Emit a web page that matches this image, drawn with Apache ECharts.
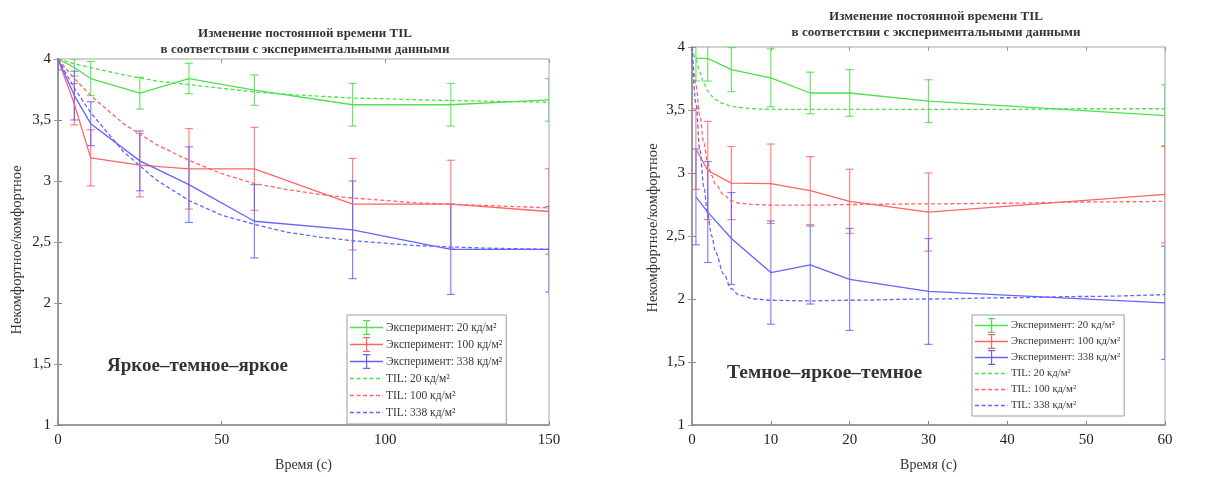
<!DOCTYPE html>
<html>
<head>
<meta charset="utf-8">
<script src="https://cdn.jsdelivr.net/npm/echarts@6/dist/echarts.min.js"></script>
<style>
  html, body { margin: 0; padding: 0; background: #fff; }
  #chart { width: 1212px; height: 477px; }
</style>
</head>
<body>
<div id="chart"></div>
<script>
// ---- Labels ----
const titleText = 'Изменение постоянной времени TIL\nв соответствии с экспериментальными данными';
const yName = 'Некомфортное/комфортное';
const xName = 'Время (с)';
const seriesNames = [
  'Эксперимент: 20 кд/м²', 'Эксперимент: 100 кд/м²', 'Эксперимент: 338 кд/м²',
  'TIL: 20 кд/м²', 'TIL: 100 кд/м²', 'TIL: 338 кд/м²'
];
const panelLabels = ['Яркое–темное–яркое', 'Темное–яркое–темное'];

// ---- Panel A: bright–dark–bright (0…150 s) ----
const aExpX = [0, 5, 10, 25, 40, 60, 90, 120, 150];
const aExp20 = [4.0, 3.93, 3.84, 3.72, 3.84, 3.745, 3.625, 3.625, 3.665];
const aErr20 = [0, 0.07, 0.14, 0.13, 0.125, 0.125, 0.175, 0.175, 0.175];
const aExp100 = [4.0, 3.63, 3.19, 3.13, 3.10, 3.10, 2.81, 2.81, 2.75];
const aErr100 = [0, 0.17, 0.23, 0.26, 0.33, 0.34, 0.375, 0.36, 0.35];
const aExp338 = [4.0, 3.70, 3.47, 3.165, 2.97, 2.67, 2.60, 2.44, 2.44];
const aErr338 = [0.09, 0.20, 0.18, 0.245, 0.31, 0.30, 0.40, 0.37, 0.35];

const aTilX = [0, 5, 10, 20, 30, 40, 50, 60, 70, 80, 90, 100, 110, 120, 130, 140, 150];
const aTil20 = [4.0, 3.96, 3.93, 3.87, 3.82, 3.79, 3.76, 3.73, 3.71, 3.695, 3.68, 3.675, 3.665, 3.66, 3.655, 3.65, 3.645];
const aTil100 = [4.0, 3.84, 3.70, 3.47, 3.30, 3.17, 3.06, 2.98, 2.93, 2.89, 2.86, 2.84, 2.82, 2.81, 2.80, 2.79, 2.78];
const aTil338 = [4.0, 3.76, 3.56, 3.24, 3.01, 2.84, 2.72, 2.645, 2.58, 2.54, 2.51, 2.49, 2.47, 2.46, 2.45, 2.445, 2.44];

// ---- Panel B: dark–bright–dark (0…60 s) ----
const bExpX = [0.5, 2, 5, 10, 15, 20, 30, 60];
const bExp20 = [3.91, 3.91, 3.82, 3.755, 3.635, 3.635, 3.57, 3.455];
const bErr20 = [0.18, 0.18, 0.175, 0.23, 0.165, 0.185, 0.17, 0.245];
const bExp100 = [3.19, 3.02, 2.92, 2.915, 2.86, 2.775, 2.69, 2.83];
const bErr100 = [0.32, 0.39, 0.29, 0.315, 0.27, 0.255, 0.31, 0.385];
const bExp338 = [2.81, 2.69, 2.48, 2.21, 2.27, 2.155, 2.06, 1.97];
const bErr338 = [0.38, 0.40, 0.365, 0.41, 0.31, 0.405, 0.42, 0.45];

const bTilX = [0, 0.5, 1, 1.5, 2, 2.5, 3, 4, 5, 6, 8, 10, 15, 20, 30, 40, 50, 60];
const bTil20 = [4.0, 3.90, 3.80, 3.71, 3.65, 3.61, 3.58, 3.55, 3.53, 3.52, 3.51, 3.505, 3.505, 3.505, 3.505, 3.505, 3.51, 3.51];
const bTil100 = [4.0, 3.70, 3.45, 3.24, 3.08, 2.98, 2.91, 2.83, 2.78, 2.76, 2.75, 2.745, 2.745, 2.75, 2.755, 2.76, 2.77, 2.775];
const bTil338 = [4.0, 3.55, 3.18, 2.89, 2.67, 2.50, 2.37, 2.20, 2.08, 2.03, 2.0, 1.99, 1.985, 1.99, 2.0, 2.01, 2.02, 2.035];

// ---- Axis ticks ----
const yMin = 1, yMax = 4, yStep = 0.5;
const aXMax = 150, aXStep = 50;
const bXMax = 60, bXStep = 10;

const colors = ['#4fe04f', '#ff6464', '#6464ff'];
const errColors = ['rgba(60,220,60,0.75)', 'rgba(255,90,90,0.75)', 'rgba(90,90,255,0.75)'];
const serif = 'Liberation Serif, DejaVu Serif, serif';

const zip = (xs, ys) => xs.map((x, i) => [x, ys[i]]);
const zipErr = (xs, ys, es) => xs.map((x, i) => [x, ys[i] - es[i], ys[i] + es[i]]);

// vertical whisker with caps for each experimental point
function errorBarRender(color) {
  return function (params, api) {
    const x = api.value(0);
    const lo = api.coord([x, api.value(1)]);
    const hi = api.coord([x, api.value(2)]);
    const cap = 4;
    const style = { stroke: color, lineWidth: 1.2 };
    return {
      type: 'group',
      children: [
        { type: 'line', shape: { x1: hi[0], y1: hi[1], x2: lo[0], y2: lo[1] }, style },
        { type: 'line', shape: { x1: hi[0] - cap, y1: hi[1], x2: hi[0] + cap, y2: hi[1] }, style },
        { type: 'line', shape: { x1: lo[0] - cap, y1: lo[1], x2: lo[0] + cap, y2: lo[1] }, style }
      ]
    };
  };
}

function panelSeries(axisIdx, expX, exps, errs, tilX, tils, tilSmooth) {
  const out = [];
  for (let k = 0; k < 3; k++) {
    out.push({
      name: seriesNames[k], type: 'line', xAxisIndex: axisIdx, yAxisIndex: axisIdx,
      data: zip(expX, exps[k]), symbol: 'none', smooth: false,
      lineStyle: { color: colors[k], width: 1.3 }, itemStyle: { color: colors[k] },
      z: 3, animation: false
    });
    out.push({
      name: 'err' + axisIdx + k, type: 'custom', xAxisIndex: axisIdx, yAxisIndex: axisIdx,
      data: zipErr(expX, exps[k], errs[k]), renderItem: errorBarRender(errColors[k]),
      clip: true, z: 2, animation: false, silent: true
    });
  }
  for (let k = 0; k < 3; k++) {
    out.push({
      name: seriesNames[3 + k], type: 'line', xAxisIndex: axisIdx, yAxisIndex: axisIdx,
      data: zip(tilX, tils[k]), symbol: 'none', smooth: tilSmooth, smoothMonotone: 'x',
      lineStyle: { color: colors[k], width: 1.3, type: [4, 2.5] }, itemStyle: { color: colors[k] },
      z: 3, animation: false
    });
  }
  return out;
}

const commaFmt = v => String(v).replace('.', ',');

function xAxisMain(gridIndex, max, step) {
  return {
    type: 'value', gridIndex, min: 0, max, interval: step,
    name: xName, nameLocation: 'middle', nameGap: 33,
    nameTextStyle: { fontFamily: serif, fontSize: 14, color: '#333' },
    axisLine: { show: true, lineStyle: { color: '#9a9a9a', width: 2 } },
    axisTick: { show: true, inside: true, length: 4, lineStyle: { color: '#888' } },
    axisLabel: { fontFamily: serif, fontSize: 15, color: '#222', margin: 8 },
    splitLine: { show: false }
  };
}
function xAxisMirror(gridIndex, max, step) {
  return {
    type: 'value', gridIndex, min: 0, max, interval: step, position: 'top',
    axisLine: { show: false }, axisLabel: { show: false }, splitLine: { show: false },
    axisTick: { show: true, inside: true, length: 4, lineStyle: { color: '#999' } }
  };
}
function yAxisMain(gridIndex, gap, namePad) {
  return {
    type: 'value', gridIndex, min: yMin, max: yMax, interval: yStep,
    name: yName, nameLocation: 'middle', nameGap: gap, nameRotate: 90,
    nameTextStyle: { fontFamily: serif, fontSize: 14.5, color: '#333', padding: namePad },
    axisLine: { show: true, lineStyle: { color: '#9a9a9a', width: 2 } },
    axisTick: { show: true, inside: true, length: 4, lineStyle: { color: '#888' } },
    axisLabel: { fontFamily: serif, fontSize: 15, color: '#222', margin: 7, formatter: commaFmt },
    splitLine: { show: false }
  };
}
function yAxisMirror(gridIndex) {
  return {
    type: 'value', gridIndex, min: yMin, max: yMax, interval: yStep, position: 'right',
    axisLine: { show: false }, axisLabel: { show: false }, splitLine: { show: false },
    axisTick: { show: true, inside: true, length: 4, lineStyle: { color: '#999' } }
  };
}

// legend glyphs (33×15 box): line with an error whisker, and a dashed line
const expIcon = 'path://M0,6.7h33v1.6h-33zM16,0h1.2v15h-1.2zM13,0h7.2v1.2h-7.2zM13,13.8h7.2v1.2h-7.2z';
let dashPath = '';
for (let x = 0; x < 33; x += 6.5) dashPath += 'M' + x + ',0h' + Math.min(4, 33 - x) + 'v1.6h-' + Math.min(4, 33 - x) + 'z';
const tilIcon = 'path://' + dashPath;

function legendBlock(left, top, gap, fontSize, pad) {
  return {
    orient: 'vertical', left, top, itemWidth: 33, itemHeight: 15, itemGap: gap,
    padding: pad, borderColor: '#9c9c9c', borderWidth: 1, backgroundColor: '#fff',
    selectedMode: false, symbolKeepAspect: true,
    textStyle: { fontFamily: serif, fontSize, lineHeight: 15, color: '#3a3a3a', padding: [0, 0, 0, -2] },
    data: seriesNames.map((n, i) => ({ name: n, icon: i < 3 ? expIcon : tilIcon }))
  };
}

const option = {
  backgroundColor: '#fff',
  animation: false,
  title: [
    { text: titleText, left: 300, top: 21, textAlign: 'center',
      textStyle: { fontFamily: serif, fontSize: 13, fontWeight: 'bold', color: '#333', lineHeight: 16 } },
    { text: titleText, left: 931, top: 4, textAlign: 'center',
      textStyle: { fontFamily: serif, fontSize: 13, fontWeight: 'bold', color: '#333', lineHeight: 16 } }
  ],
  grid: [
    { left: 58, right: 663, top: 59, bottom: 45, show: true, borderColor: '#c4c4c4', borderWidth: 1.5, backgroundColor: '#fff' },
    { left: 692, right: 47, top: 47, bottom: 48, show: true, borderColor: '#c4c4c4', borderWidth: 1.5, backgroundColor: '#fff' }
  ],
  xAxis: [
    xAxisMain(0, aXMax, aXStep), xAxisMain(1, bXMax, bXStep),
    xAxisMirror(0, aXMax, aXStep), xAxisMirror(1, bXMax, bXStep)
  ],
  yAxis: [
    yAxisMain(0, 33, [0, 16, 0, 0]), yAxisMain(1, 31, [0, 0, 0, 16]),
    yAxisMirror(0), yAxisMirror(1)
  ],
  legend: [
    legendBlock(347, 315, 2, 11.5, [5, 4, 4, 3]),
    legendBlock(972, 315, 1, 10.8, [3, 4, 3, 3])
  ],
  graphic: [
    { type: 'text', left: 107, top: 357, style: { text: panelLabels[0], fontFamily: serif, fontSize: 19, fontWeight: 'bold', fill: '#333' } },
    { type: 'text', left: 727, top: 363, style: { text: panelLabels[1], fontFamily: serif, fontSize: 19.5, fontWeight: 'bold', fill: '#333' } }
  ],
  series: [
    ...panelSeries(0, aExpX, [aExp20, aExp100, aExp338], [aErr20, aErr100, aErr338], aTilX, [aTil20, aTil100, aTil338], false),
    ...panelSeries(1, bExpX, [bExp20, bExp100, bExp338], [bErr20, bErr100, bErr338], bTilX, [bTil20, bTil100, bTil338], 0.35)
  ]
};

const chart = echarts.init(document.getElementById('chart'), null, { renderer: 'canvas' });
chart.setOption(option);
</script>
</body>
</html>
